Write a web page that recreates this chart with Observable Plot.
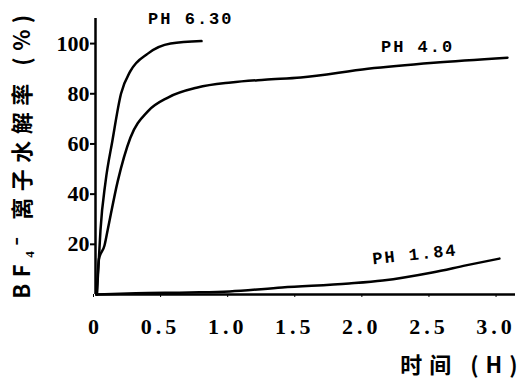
<!DOCTYPE html>
<html>
<head>
<meta charset="utf-8">
<script src="https://cdn.jsdelivr.net/npm/d3@7"></script>
<script src="https://cdn.jsdelivr.net/npm/@observablehq/plot@0.6"></script>
<style>
  html, body { margin: 0; padding: 0; background: #fff; }
  svg { display: block; }
</style>
</head>
<body>
<div id="chart"></div>
<script>
// Series data (time in hours, hydrolysis rate in %)
const ph630T = [0.01, 0.025, 0.037, 0.075, 0.125, 0.19, 0.26, 0.39, 0.56, 0.79];
const ph630V = [0, 14, 25.5, 45, 61, 80, 89, 96, 100, 101];
const ph40T = [0.01, 0.025, 0.067, 0.09, 0.165, 0.26, 0.39, 0.54, 0.76, 1.01, 1.26, 1.53, 2.03, 2.52, 3.07];
const ph40V = [0, 14, 19.5, 25.5, 45, 62.5, 73, 78.5, 82.5, 84.5, 85.6, 86.5, 90, 92.4, 94.4];
const ph184T = [0.01, 0.3, 0.7, 1.0, 1.39, 1.89, 2.14, 2.51, 2.76, 3.01];
const ph184V = [0, 0.5, 0.8, 1.2, 2.8, 4.4, 5.6, 8.8, 11.6, 14.3];

const seriesNames = ["PH 6.30", "PH 4.0", "PH 1.84"];
const labelT = [0.71, 2.40, 2.38];
const labelV = [110, 98.8, 16];
const labelRotate = [0, 0, -6];

const xTicks = [0, 0.5, 1.0, 1.5, 2.0, 2.5, 3.0];
const xTickLabels = ["0", "0.5", "1.0", "1.5", "2.0", "2.5", "3.0"];
const yTicks = [20, 40, 60, 80, 100];
const yTitle = "BF₄⁻ 离子水解率 (%)";
const xTitle = "时间 (H)";

const rows = [];
[[ph630T, ph630V], [ph40T, ph40V], [ph184T, ph184V]].forEach(([ts, vs], i) => {
  ts.forEach((t, j) => rows.push({series: seriesNames[i], t, v: vs[j]}));
});
const labels = seriesNames.map((s, i) => ({s, t: labelT[i], v: labelV[i], r: labelRotate[i]}));

const serif = "'Liberation Serif', 'DejaVu Serif', serif";
const cjk = "'Noto Sans CJK SC', 'Liberation Serif', sans-serif";

const chart = Plot.plot({
  width: 524,
  height: 391,
  marginLeft: 95,
  marginRight: 9,
  marginTop: 18,
  marginBottom: 97,
  x: {domain: [0, 3.13]},
  y: {domain: [0, 110]},
  marks: [
    Plot.ruleX([0], {y1: 0, y2: 110, strokeWidth: 2.5}),
    Plot.ruleY([0], {x1: 0, x2: 3.13, strokeWidth: 2.5}),
    Plot.axisY({ticks: yTicks, tickSize: 5, tickPadding: 1, tickFormat: d => String(d),
      fontSize: 22, fontWeight: "bold", fontFamily: serif, label: null, strokeWidth: 2}),
    Plot.axisX({ticks: xTicks, tickSize: 3, tickPadding: 21, dx: -2,
      tickFormat: (d, i) => xTickLabels[i],
      fontSize: 22, fontWeight: "bold", fontFamily: serif, label: null}),
    Plot.line(rows, {x: "t", y: "v", z: "series", stroke: "black", strokeWidth: 2.5, curve: "monotone-x"}),
    Plot.text(labels, {x: "t", y: "v", text: "s", rotate: "r", fontSize: 17, fontWeight: "bold",
      fontFamily: "'Liberation Mono', monospace"}),
    Plot.text([yTitle], {frameAnchor: "left", textAnchor: "middle", dx: -73, dy: -3, rotate: -90, fontSize: 22,
      fontWeight: "bold", fontFamily: cjk}),
    Plot.text([xTitle], {frameAnchor: "bottom-right", dx: 9, dy: 78, textAnchor: "end", fontSize: 22,
      fontWeight: "bold", fontFamily: cjk})
  ]
});
document.getElementById("chart").appendChild(chart);
const svg = d3.select(chart);
const texts = svg.selectAll("text");
texts.filter(function() { return xTickLabels.includes(this.textContent) && this.textContent !== "0"; })
  .attr("letter-spacing", "4px");
texts.filter(function() { return this.textContent === yTitle; }).attr("letter-spacing", "6.5px");
texts.filter(function() { return this.textContent === xTitle; }).attr("letter-spacing", "7px");
texts.filter(function() { return seriesNames.includes(this.textContent); }).attr("letter-spacing", "2px");
</script>
</body>
</html>
